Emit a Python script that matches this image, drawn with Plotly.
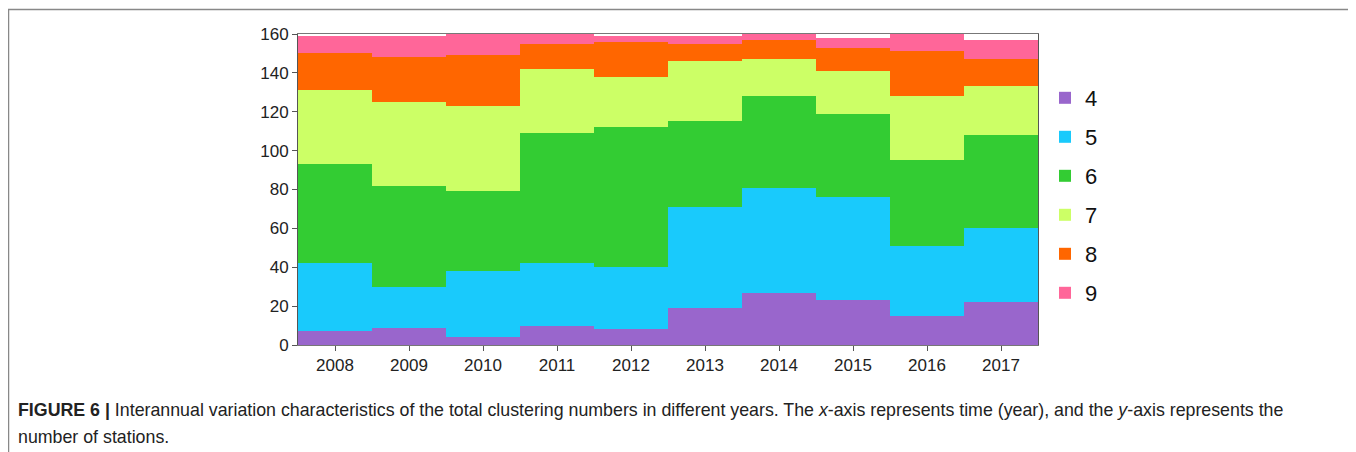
import plotly.graph_objects as go

years = ["2008", "2009", "2010", "2011", "2012", "2013", "2014", "2015", "2016", "2017"]
series_names = ["4", "5", "6", "7", "8", "9"]
v4 = [7, 9, 4, 10, 8, 19, 27, 23, 15, 22]
v5 = [35, 21, 34, 32, 32, 52, 54, 53, 36, 38]
v6 = [51, 52, 41, 67, 72, 44, 47, 43, 44, 48]
v7 = [38, 43, 44, 33, 26, 31, 19, 22, 33, 25]
v8 = [19, 23, 26, 13, 18, 9, 10, 12, 23, 14]
v9 = [9, 11, 11, 5, 3, 4, 3, 5, 9, 10]
y_ticks = [0, 20, 40, 60, 80, 100, 120, 140, 160]

values = [v4, v5, v6, v7, v8, v9]
colors = ["#9966CC", "#19CAFC", "#33CC33", "#CCFF66", "#FF6600", "#FF6699"]

fig = go.Figure()
for name, vals, col in zip(series_names, values, colors):
    fig.add_trace(go.Bar(
        x=years, y=vals, name=name, legendgroup=name,
        marker=dict(color=col, line=dict(width=0)),
        width=1.0,
    ))

# page is offset by the 8px body margin; coordinates below are figure coords
W, H = 1348, 444
L, R, T, B = 290, 1030, 26, 337

def px(x):
    return (x - L) / (R - L)

def py(y):
    return (B - y) / (B - T)

FONT = "Liberation Sans, Arial, sans-serif"

fig.update_layout(
    width=W, height=H,
    margin=dict(l=L, r=W - R, t=T, b=H - B),
    barmode="stack", bargap=0,
    plot_bgcolor="white", paper_bgcolor="white",
    font=dict(family=FONT, color="#222222"),
    showlegend=True,
    legend=dict(
        x=px(1037), y=py(69), xanchor="left", yanchor="top",
        font=dict(size=22, color="#111111"),
        traceorder="grouped", tracegroupgap=7.4,
        itemwidth=30, bgcolor="rgba(0,0,0,0)",
    ),
    xaxis=dict(
        type="category", range=[-0.5, 9.5],
        showline=True, linecolor="#777777", linewidth=1, mirror=True,
        ticks="outside", ticklen=5, tickcolor="#555555",
        tickfont=dict(size=17, color="#222222"),
        showgrid=False,
    ),
    yaxis=dict(
        range=[0, 160], tickvals=y_ticks,
        showline=True, linecolor="#555555", linewidth=1, mirror=True,
        ticks="outside", ticklen=5, tickcolor="#555555",
        tickfont=dict(size=17, color="#222222"),
        showgrid=False, zeroline=False,
    ),
)

# Caption box border
fig.add_shape(type="rect", xref="paper", yref="paper",
              x0=px(0.5), x1=px(1344.5), y0=py(470), y1=py(1.5),
              line=dict(color="#888888", width=1.5), fillcolor="rgba(0,0,0,0)", layer="below")

caption1 = ("<b>FIGURE 6 |</b> Interannual variation characteristics of the total clustering numbers in different years. "
            "The <i>x</i>-axis represents time (year), and the <i>y</i>-axis represents the")
caption2 = "number of stations."
fig.add_annotation(xref="paper", yref="paper", x=px(8), y=py(402), xanchor="left", yanchor="middle",
                   text=caption1, showarrow=False, font=dict(size=17.8, color="#222222", family=FONT))
fig.add_annotation(xref="paper", yref="paper", x=px(8), y=py(429), xanchor="left", yanchor="middle",
                   text=caption2, showarrow=False, font=dict(size=17.8, color="#222222", family=FONT))

fig.write_html("out.html")
